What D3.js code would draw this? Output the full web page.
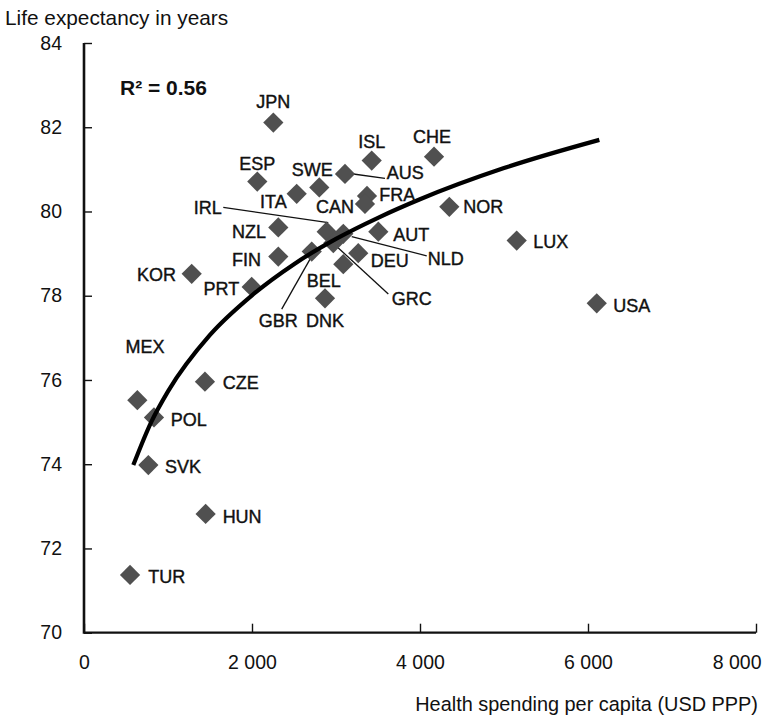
<!DOCTYPE html>
<html>
<head>
<meta charset="utf-8">
<script src="https://cdn.jsdelivr.net/npm/d3@7"></script>
<style>
  html, body { margin: 0; padding: 0; background: #fff; }
  svg { display: block; }
  text { font-family: "Liberation Sans", Arial, sans-serif; fill: #111; }
  .clabel { font-family: "Liberation Sans Narrow", "Arial Narrow", "Liberation Sans", sans-serif; }
</style>
</head>
<body>
<script>
// ---------------- DATA ----------------
const countries = ["JPN","ESP","ITA","SWE","AUS","ISL","CHE","FRA","CAN","NOR","IRL","NZL","AUT","NLD","GRC","GBR","FIN","DEU","BEL","DNK","PRT","KOR","MEX","POL","SVK","CZE","HUN","TUR","LUX","USA"];
const spending = [2254,2063,2532,2801,3107,3425,4167,3369,3345,4349,2889,2313,3504,3087,2968,2711,2313,3265,3087,2869,1996,1282,635,833,766,1440,1448,548,5151,6104];
const lifeExp  = [82.11,80.71,80.42,80.57,80.89,81.21,81.30,80.37,80.18,80.11,79.52,79.62,79.52,79.47,79.25,79.05,78.93,79.01,78.75,77.94,78.21,78.52,75.52,75.11,73.98,75.96,72.82,71.37,79.31,77.82];

// trend line (logarithmic fit)
const trendSpending = [587, 800, 1000, 1500, 2000, 2500, 3000, 3500, 4000, 5000, 6135];
const trendLifeExp  = [73.98, 75.0, 75.73, 77.07, 78.01, 78.75, 79.35, 79.85, 80.29, 81.03, 81.70];

const xTickValues = [0, 2000, 4000, 6000, 8000];
const xTickLabels = ["0", "2 000", "4 000", "6 000", "8 000"];
const yTickValues = [70, 72, 74, 76, 78, 80, 82, 84];
const yTickLabels = ["70", "72", "74", "76", "78", "80", "82", "84"];

const yTitle = "Life expectancy in years";
const xTitle = "Health spending per capita (USD PPP)";
const r2Label = "R² = 0.56";

// ---------------- LAYOUT (label placement) ----------------
// [anchor, dx, dy] relative to marker centre, plus optional leader [x1,y1,x2,y2]
const labelLayout = {
  JPN: ["middle", 0, -14.4], ESP: ["middle", 0, -11.7], ITA: ["end", -10, 14.3],
  SWE: ["middle", -7, -11.3], AUS: ["start", 41.7, 5.3, [8.3, 0, 40, 4.3]],
  ISL: ["middle", 0, -12.4], CHE: ["middle", -2, -14], FRA: ["start", 12.3, 4.7],
  CAN: ["end", -11, 9.3], NOR: ["start", 14, 6],
  IRL: ["end", -105, -17.7, [1.6, -9, -103.4, -24.4]],
  NZL: ["end", -12.3, 11], AUT: ["start", 15, 9],
  NLD: ["start", 84.4, 31, [8.4, 2.7, 83.4, 22]],
  GRC: ["start", 58.4, 61.7, [3.4, 3.4, 55, 51]],
  GBR: ["middle", -33.4, 75, [-1.7, 7.6, -30, 57.6]],
  FIN: ["end", -17.3, 9], DEU: ["start", 12.4, 14], BEL: ["middle", -19.5, 22.7],
  DNK: ["middle", 0, 28.4], PRT: ["end", -12.4, 8.3], KOR: ["end", -15.7, 7],
  MEX: ["middle", 7.7, -46.7], POL: ["start", 16.7, 8.7], SVK: ["start", 16.7, 8.3],
  CZE: ["start", 17.7, 7.6], HUN: ["start", 17, 8.7], TUR: ["start", 18.3, 8.3],
  LUX: ["start", 16.6, 7.6], USA: ["start", 16.6, 8.4]
};

// ---------------- CHART ----------------
const W = 763, H = 716;
const svg = d3.select("body").append("svg").attr("width", W).attr("height", H);

const x = d3.scaleLinear().domain([0, 8000]).range([84, 756]);
const y = d3.scaleLinear().domain([70, 84]).range([632.7, 43]);

// titles
svg.append("text").attr("x", 5).attr("y", 25).style("font-size", "20.8px").text(yTitle);
svg.append("text").attr("x", 758).attr("y", 711).attr("text-anchor", "end").style("font-size", "19.9px").text(xTitle);

// y axis
const yAxis = d3.axisLeft(y).tickValues(yTickValues).tickFormat((d, i) => yTickLabels[i])
  .tickSize(-8).tickPadding(22);
const gy = svg.append("g").attr("transform", "translate(84,0)").call(yAxis);
gy.select(".domain").remove();
gy.selectAll(".tick line").attr("stroke", "#111").attr("stroke-width", 1.4);
gy.selectAll(".tick text").style("font-size", "19.5px").attr("fill", "#111")
  .style("font-family", "'Liberation Sans', Arial, sans-serif");

// x axis
const xAxis = d3.axisBottom(x).tickValues(xTickValues).tickFormat((d, i) => xTickLabels[i])
  .tickSize(-9).tickPadding(22);
const gx = svg.append("g").attr("transform", "translate(0,632.7)").call(xAxis);
gx.select(".domain").remove();
gx.selectAll(".tick line").attr("stroke", "#111").attr("stroke-width", 1.4);
gx.selectAll(".tick text").style("font-size", "19.5px").attr("fill", "#111")
  .style("font-family", "'Liberation Sans', Arial, sans-serif");
// last label kept inside the picture, as in the reference
gx.selectAll(".tick text").filter(d => d === xTickValues[xTickValues.length - 1])
  .attr("text-anchor", "end").attr("dx", 5);

// axis lines
svg.append("line").attr("x1", x(0)).attr("x2", x(0)).attr("y1", y(84)).attr("y2", y(70) + 1)
  .attr("stroke", "#111").attr("stroke-width", 2.6);
svg.append("line").attr("x1", x(0)).attr("x2", x(8000)).attr("y1", y(70)).attr("y2", y(70))
  .attr("stroke", "#111").attr("stroke-width", 2.2);

// R2 annotation
svg.append("text").attr("x", 120).attr("y", 95).style("font-size", "21px").style("font-weight", "bold").text(r2Label);

const pts = countries.map((c, i) => ({ c, sx: x(spending[i]), sy: y(lifeExp[i]), lay: labelLayout[c] }));

// leader lines
svg.append("g").selectAll("line").data(pts.filter(p => p.lay[3])).join("line")
  .attr("x1", p => p.sx + p.lay[3][0]).attr("y1", p => p.sy + p.lay[3][1])
  .attr("x2", p => p.sx + p.lay[3][2]).attr("y2", p => p.sy + p.lay[3][3])
  .attr("stroke", "#111").attr("stroke-width", 1.3);

// diamonds
const diamond = d3.symbol().type(d3.symbolSquare).size(205);
svg.append("g").selectAll("path").data(pts).join("path")
  .attr("d", diamond)
  .attr("transform", p => `translate(${p.sx},${p.sy}) rotate(45)`)
  .attr("fill", "#505050");

// trend curve
const trend = trendSpending.map((s, i) => [x(s), y(trendLifeExp[i])]);
svg.append("path").attr("d", d3.line().curve(d3.curveMonotoneX)(trend))
  .attr("fill", "none").attr("stroke", "#000").attr("stroke-width", 4.2);

// labels
svg.append("g").selectAll("text").data(pts).join("text")
  .attr("class", "clabel")
  .attr("x", p => p.sx + p.lay[1]).attr("y", p => p.sy + p.lay[2])
  .attr("text-anchor", p => p.lay[0])
  .style("font-size", "18px")
  .attr("stroke", "#111").attr("stroke-width", 0.4)
  .text(p => p.c);
</script>
</body>
</html>
